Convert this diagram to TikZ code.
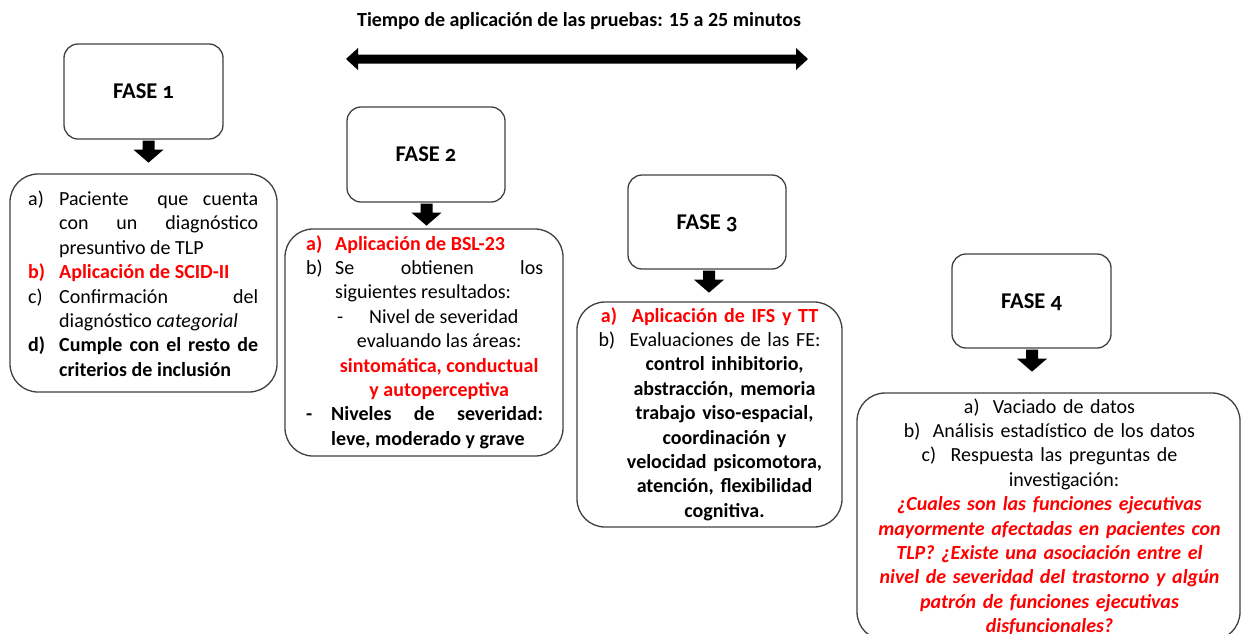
\documentclass[tikz,border=0pt]{standalone}
\usepackage{fontspec}
\setmainfont{Carlito}
\newfontfamily\fasefont{Carlito}[Numbers=OldStyle]
\usetikzlibrary{calc}
\definecolor{rd}{RGB}{255,0,0}
\definecolor{bd}{RGB}{64,64,64}
\newcommand\hitem[3]{\noindent\hangindent=#1\hangafter=1\makebox[#1][l]{#2}{#3}\par}
\newcommand\justifyset{\leftskip=0pt\rightskip=0pt\parfillskip=0pt plus 1fil\parindent=0pt
  \spaceskip=0.23em plus 2em minus 0.05em\xspaceskip=0.23em plus 2em minus 0.05em}
\newcommand\blockdown[1]{\fill[black] ($(#1)+(-6,0)$) -- ++(12,0) -- ++(0,9) -- ++(9,0) -- ++(-15,13) -- ++(-15,-13) -- ++(9,0) -- cycle;}
\begin{document}
\begin{tikzpicture}[x=1pt,y=-1pt,
  fasebox/.style={draw=bd, line width=1.3pt, rounded corners=14pt, inner sep=0pt,
    font=\fontsize{22.5}{26}\selectfont\fasefont\bfseries, text height=14.5pt, text depth=0pt},
  cbox/.style={draw=bd, line width=1.3pt, rounded corners=28pt, inner sep=0pt},
  ctext/.style={inner sep=0pt, font=\fontsize{20}{24.4}\selectfont}]
\useasboundingbox (0,0) rectangle (1244,633);

% title and time arrow
\node[inner sep=0pt, anchor=base, font=\fontsize{20}{24}\selectfont\bfseries] (title) at (579,26)
  {Tiempo de aplicación de las pruebas: 15 a 25 minutos};
\coordinate (dl) at (346,59);
\coordinate (dr) at (808,59);
\fill[black] (dl) -- ($(dl)+(12,-11)$) -- ($(dl)+(12,-4.5)$) -- ($(dr)+(-12,-4.5)$) -- ($(dr)+(-12,-11)$)
  -- (dr) -- ($(dr)+(-12,11)$) -- ($(dr)+(-12,4.5)$) -- ($(dl)+(12,4.5)$) -- ($(dl)+(12,11)$) -- cycle;

% phase boxes
\node[fasebox, minimum width=159pt, minimum height=95pt] (f1) at (143.5,91.5) {FASE 1};
\node[fasebox, minimum width=158pt, minimum height=95pt] (f2) at (426,154.5) {FASE 2};
\node[fasebox, minimum width=158pt, minimum height=94pt] (f3) at (707,222) {FASE 3};
\node[fasebox, minimum width=159pt, minimum height=94pt] (f4) at (1031.5,301) {FASE 4};

% content boxes
\node[cbox, minimum width=267pt, minimum height=218pt] (b1) at (143.5,283) {};
\node[cbox, minimum width=278pt, minimum height=227pt] (b2) at (424,342.5) {};
\node[cbox, minimum width=265pt, minimum height=225pt] (b3) at (709.5,414.5) {};
\node[cbox, minimum width=383pt, minimum height=247pt] (b4) at (1048.5,516.5) {};

% arrows
\coordinate (a1) at ($(f1.south)+(5,1)$);
\coordinate (a2) at ($(f2.south)+(0.5,1)$);
\coordinate (a3) at ($(f3.south)+(2,1)$);
\coordinate (a4) at ($(f4.south)+(0.5,1)$);
\blockdown{a1}
\blockdown{a2}
\blockdown{a3}
\blockdown{a4}

% texts
\node[ctext, anchor=base west, text width=230pt] (t1) at (28,205.5) {\justifyset
\hitem{31pt}{a)}{Paciente\ \ que cuenta\linebreak con un diagnóstico\linebreak presuntivo de TLP}%
\hitem{31pt}{\color{rd}\bfseries b)}{\color{rd}\bfseries Aplicación de SCID-II}%
\hitem{31pt}{c)}{Confirmación del\linebreak diagnóstico \textit{categorial}}%
\hitem{31pt}{\bfseries d)}{\bfseries Cumple con el resto de\linebreak criterios de inclusión}};

\node[ctext, anchor=base west, text width=237pt] (t2) at (306,250) {\justifyset
\hitem{29pt}{\color{rd}\bfseries a)}{\color{rd}\bfseries Aplicación de BSL-23}%
\hitem{29pt}{b)}{Se obtienen los\linebreak siguientes resultados:}%
\noindent\hspace*{31pt}\makebox[32pt][l]{-}Nivel de severidad\par
{\centering\leftskip=29pt plus 1fil evaluando las áreas:\par
{\color{rd}\bfseries sintomática, conductual\par y autoperceptiva\par}}%
\hitem{25pt}{\bfseries -}{\bfseries Niveles de severidad:\linebreak leve, moderado y grave}};

\node[ctext, anchor=base, text width=240pt, align=center] (t3) at (709.5,322) {%
\centering
{\color{rd}\bfseries\makebox[31pt][l]{a)}Aplicación de IFS y TT\par}
\makebox[31pt][l]{b)}Evaluaciones de las FE:\par
{\bfseries\leftskip=30pt plus 1fil control inhibitorio,\par abstracción, memoria\par trabajo viso-espacial,\par
coordinación y\par velocidad psicomotora,\par atención, flexibilidad\par cognitiva.\par}};

\node[ctext, anchor=base, text width=360pt, align=center] (t4) at (1049.5,413) {%
\centering
\makebox[29pt][l]{a)}Vaciado de datos\par
\makebox[29pt][l]{b)}Análisis estadístico de los datos\par
\makebox[29pt][l]{c)}Respuesta las preguntas de\par
\hspace*{29pt}investigación:\par
{\color{rd}\bfseries\itshape ¿Cuales son las funciones ejecutivas\par mayormente afectadas en pacientes con\par
TLP? ¿Existe una asociación entre el\par nivel de severidad del trastorno y algún\par
patrón de funciones ejecutivas\par disfuncionales?\par}};
\end{tikzpicture}
\end{document}
